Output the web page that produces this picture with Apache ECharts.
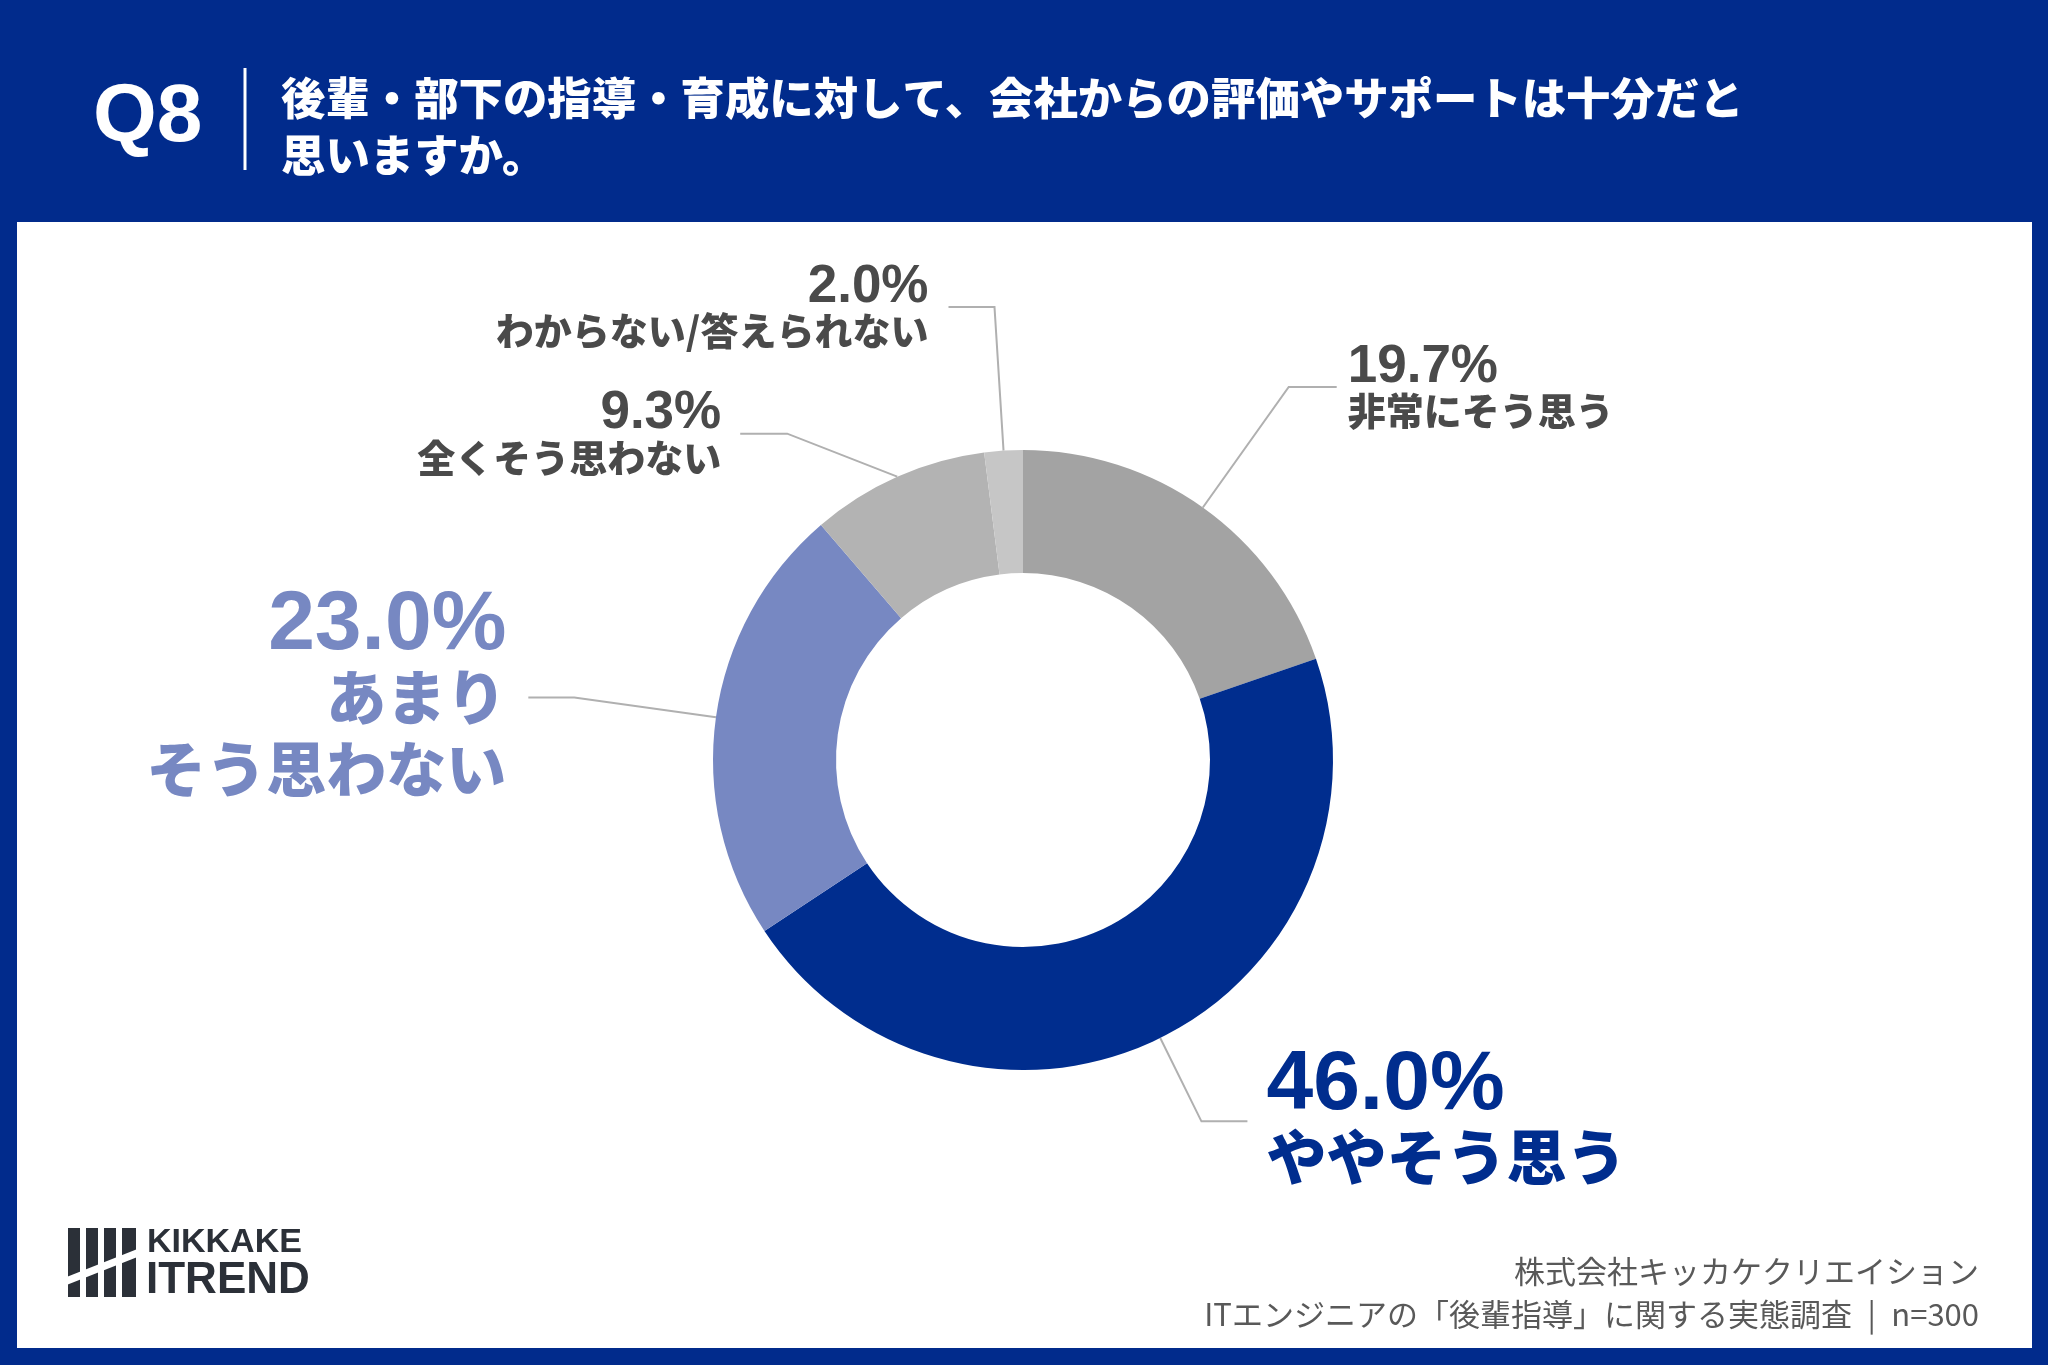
<!DOCTYPE html>
<html>
<head>
<meta charset="utf-8">
<script src="https://cdn.jsdelivr.net/npm/echarts@6/dist/echarts.min.js"></script>
<style>
  html, body { margin: 0; padding: 0; background: #012b8c; }
  #main { width: 2048px; height: 1365px; }
</style>
</head>
<body>
<div id="main"></div>
<script>
// データ
const categories = ['非常にそう思う', 'ややそう思う', 'あまり\nそう思わない', '全くそう思わない', 'わからない/答えられない']
const values = [19.7, 46.0, 23.0, 9.3, 2.0]
const colors = ['#a3a3a3', '#002d8e', '#7788c2', '#b3b3b3', '#c6c6c6']

const NAVY = '#012b8c'
const JP = '"Noto Sans CJK JP", "Noto Sans", sans-serif'
const NUM = '"Liberation Sans", Arial, sans-serif'

// ラベルの見た目（小さいグレー / 大きい色付き）
const small = (align) => ({
    p: { fontFamily: NUM, fontWeight: 'bold', fontSize: 53, color: '#4a4a4a', lineHeight: 48, align },
    n: { fontFamily: JP, fontWeight: 900, fontSize: 38, color: '#4a4a4a', lineHeight: 40, align }
})
const big = (align, color) => ({
    p: { fontFamily: NUM, fontWeight: 'bold', fontSize: 84, color, lineHeight: 72, align },
    n: { fontFamily: JP, fontWeight: 900, fontSize: 60, color, lineHeight: 72, align }
})
const labelStyles = [
    { rich: small('left'), dist: 11, len: 148, len2: 48 },
    { rich: big('left', '#002d8e'), dist: 19, len: 93, len2: 46 },
    { rich: big('right', '#7788c2'), dist: 22, len: 143, len2: 46 },
    { rich: small('right'), dist: 19, len: 40, len2: 47 },
    { rich: small('right'), dist: 20, len: 144, len2: 46 }
]

const pieData = categories.map((name, i) => ({
    name,
    value: values[i],
    itemStyle: { color: colors[i] },
    label: { rich: labelStyles[i].rich, distanceToLabelLine: labelStyles[i].dist },
    labelLine: { length: labelStyles[i].len, length2: labelStyles[i].len2 }
}))

const chart = echarts.init(document.getElementById('main'))

chart.setOption({
    backgroundColor: NAVY,
    animation: false,
    graphic: [
        { type: 'rect', z: -10, shape: { x: 17, y: 222, width: 2015, height: 1126 }, style: { fill: '#fff' } },
        { type: 'text', x: 93, y: 118, style: { text: 'Q8', fill: '#fff', font: 'bold 82px ' + NUM, verticalAlign: 'middle' } },
        { type: 'line', shape: { x1: 245, y1: 68, x2: 245, y2: 170 }, style: { stroke: '#fff', lineWidth: 3 } },
        { type: 'text', x: 281, y: 98, style: { text: '後輩・部下の指導・育成に対して、会社からの評価やサポートは十分だと', fill: '#fff', font: '900 44.4px ' + JP, verticalAlign: 'middle' } },
        { type: 'text', x: 281, y: 155, style: { text: '思いますか。', fill: '#fff', font: '900 44.4px ' + JP, verticalAlign: 'middle' } },
        // フッター
        { type: 'text', x: 1979, y: 1271, style: { text: '株式会社キッカケクリエイション', fill: '#595959', font: '400 31px ' + JP, align: 'right', verticalAlign: 'middle' } },
        { type: 'text', x: 1979, y: 1314, style: { text: 'ITエンジニアの「後輩指導」に関する実態調査\u2002|\u2002n=300', fill: '#595959', font: '400 31px ' + JP, align: 'right', verticalAlign: 'middle' } },
        // ロゴ
        { type: 'rect', shape: { x: 68, y: 1228, width: 12, height: 69 }, style: { fill: '#2b3038' } },
        { type: 'rect', shape: { x: 86, y: 1228, width: 12, height: 69 }, style: { fill: '#2b3038' } },
        { type: 'rect', shape: { x: 104, y: 1228, width: 12, height: 69 }, style: { fill: '#2b3038' } },
        { type: 'rect', shape: { x: 122, y: 1228, width: 14, height: 69 }, style: { fill: '#2b3038' } },
        { type: 'polygon', shape: { points: [[64, 1278], [140, 1248], [140, 1256], [64, 1286]] }, style: { fill: '#fff' } },
        { type: 'text', x: 147, y: 1243, style: { text: 'KIKKAKE', fill: '#2b3038', font: 'bold 34px ' + NUM, verticalAlign: 'middle' } },
        { type: 'text', x: 146, y: 1281, style: { text: 'ITREND', fill: '#2b3038', font: 'bold 44px ' + NUM, verticalAlign: 'middle' } }
    ],
    series: [
        {
            type: 'pie',
            center: [1023, 760],
            radius: [187, 310],
            startAngle: 90,
            clockwise: true,
            avoidLabelOverlap: false,
            emphasis: { disabled: true },
            itemStyle: { borderWidth: 0 },
            label: {
                show: true,
                position: 'outside',
                formatter: (p) => '{p|' + p.value.toFixed(1) + '%}\n' + p.name.split('\n').map(s => '{n|' + s + '}').join('\n')
            },
            labelLine: {
                show: true,
                minTurnAngle: 10,
                lineStyle: { color: '#b0b0b0', width: 2 }
            },
            // 全くそう思わない だけ線を横向きに寝かせる
            labelLayout: (params) => {
                if (params.dataIndex !== 3 || !params.labelLinePoints) return {}
                const p0 = params.labelLinePoints[0]
                const p1 = [p0[0] - 110, p0[1] - 43]
                const p2 = [p1[0] - 47, p1[1]]
                return {
                    x: p2[0] - 19,
                    y: p2[1],
                    align: 'right',
                    verticalAlign: 'middle',
                    labelLinePoints: [p0, p1, p2]
                }
            },
            data: pieData
        }
    ]
})
</script>
</body>
</html>
